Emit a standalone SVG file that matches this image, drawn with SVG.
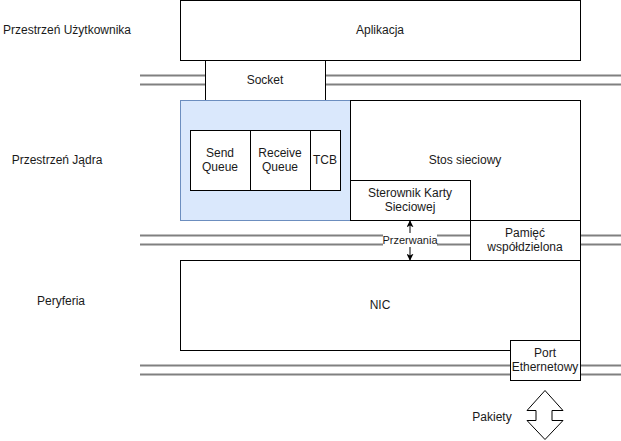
<svg xmlns="http://www.w3.org/2000/svg" width="621" height="441" viewBox="0 0 621 441">
<defs>
<style>
text{font-family:"Liberation Sans",Arial,sans-serif;font-size:12px;fill:#1a1a1a;text-anchor:middle;dominant-baseline:central}
.box{fill:#fff;stroke:#000;stroke-width:1}
.bus{stroke:#808080;stroke-width:2;fill:none}
.lbl{font-size:11px}
</style>
<marker id="ah" viewBox="0 0 10 10" refX="9" refY="5" markerWidth="7" markerHeight="7" orient="auto-start-reverse" markerUnits="userSpaceOnUse">
<path d="M0,0 L10,5 L0,10 L2.5,5 Z" fill="#000"/>
</marker>
</defs>
<rect width="621" height="441" fill="#fff"/>
<g id="buses">
<path class="bus" d="M140,75.5H621M140,84.5H621"/>
<path class="bus" d="M140,235.5H621M140,244.5H621"/>
<path class="bus" d="M140,365.5H621M140,374.5H621"/>
</g>
<g id="labels">
<text x="67" y="30">Przestrzeń Użytkownika</text>
<text x="57" y="160">Przestrzeń Jądra</text>
<text x="61" y="301">Peryferia</text>
</g>
<g id="aplikacja"><rect class="box" x="180.5" y="0.5" width="400" height="60"/><text x="380" y="30">Aplikacja</text></g>
<g id="socket"><rect class="box" x="205.5" y="60.5" width="120" height="40"/><text x="265" y="80">Socket</text></g>
<g id="tcp-area"><rect x="180.5" y="100.5" width="170" height="120" fill="#dae8fc" stroke="#6c8ebf"/></g>
<g id="stos"><rect class="box" x="350.5" y="100.5" width="230" height="120"/><text x="465" y="160">Stos sieciowy</text></g>
<g id="send-queue"><rect class="box" x="190.5" y="130.5" width="60" height="60"/><text x="220" y="153">Send</text><text x="220" y="167">Queue</text></g>
<g id="receive-queue"><rect class="box" x="250.5" y="130.5" width="60" height="60"/><text x="280" y="153">Receive</text><text x="280" y="167">Queue</text></g>
<g id="tcb"><rect class="box" x="310.5" y="130.5" width="30" height="60"/><text x="325" y="160">TCB</text></g>
<g id="sterownik"><rect class="box" x="350.5" y="180.5" width="120" height="40"/><text x="410" y="193">Sterownik Karty</text><text x="410" y="207">Sieciowej</text></g>
<g id="pamiec"><rect class="box" x="470.5" y="220.5" width="110" height="40"/><text x="525" y="233">Pamięć</text><text x="525" y="247">współdzielona</text></g>
<g id="nic"><rect class="box" x="180.5" y="260.5" width="400" height="90"/><text x="380" y="305">NIC</text></g>
<g id="port"><rect class="box" x="510.5" y="340.5" width="70" height="40"/><text x="545" y="353">Port</text><text x="545" y="367">Ethernetowy</text></g>
<g id="connectors">
<line x1="410" y1="221" x2="410" y2="260" stroke="#000" stroke-width="1" marker-start="url(#ah)" marker-end="url(#ah)"/>
<rect x="383" y="233" width="54" height="14" fill="#fff"/>
<text class="lbl" x="410" y="240">Przerwania</text>
</g>
<g id="pakiety">
<path d="M545,390.5 L563,410.5 L552,410.5 L552,420.5 L563,420.5 L545,439.5 L527,420.5 L536,420.5 L536,410.5 L527,410.5 Z" fill="#fff" stroke="#000" stroke-width="1"/>
<text x="492" y="417">Pakiety</text>
</g>
</svg>
